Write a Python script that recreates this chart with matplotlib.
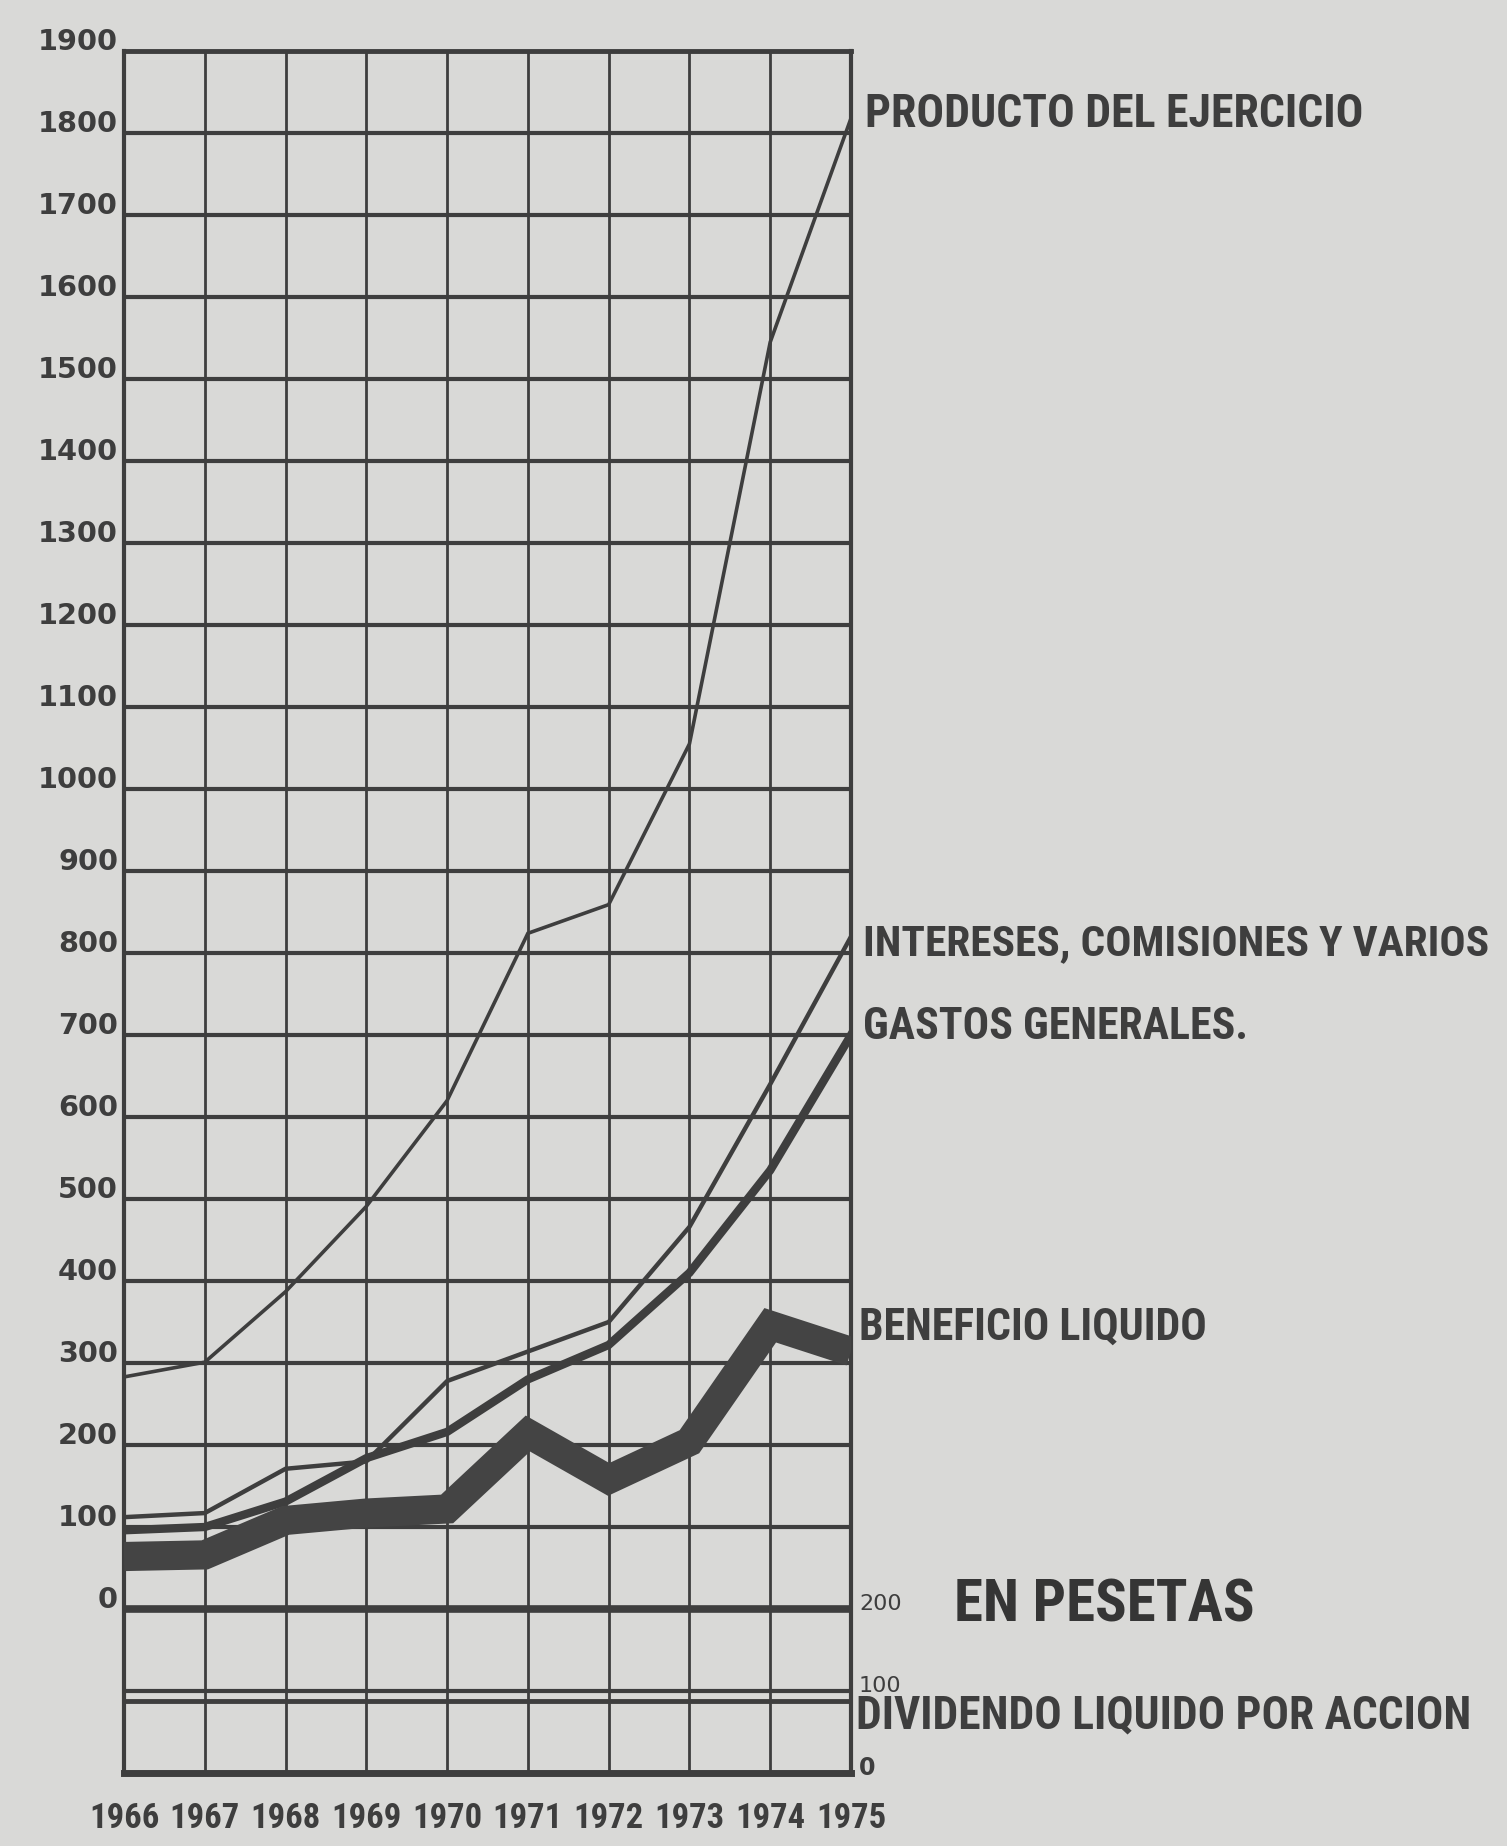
import matplotlib
matplotlib.use("Agg")
import matplotlib.pyplot as plt
from matplotlib import font_manager
from matplotlib.transforms import offset_copy

# data (millones de pesetas / pesetas)
years = [1966, 1967, 1968, 1969, 1970, 1971, 1972, 1973, 1974, 1975]
producto = [283, 301, 387, 491, 620, 824, 859, 1055, 1545, 1818]
intereses = [112, 117, 171, 180, 278, 314, 350, 466, 640, 820]
gastos = [96, 100, 131, 184, 216, 280, 322, 410, 535, 700]
beneficio = [64, 66, 108, 117, 122, 214, 158, 204, 346, 314]
dividendo = [88, 88, 88, 88, 88, 88, 88, 88, 88, 88]

y_ticks = list(range(0, 2000, 100))
div_ticks = [0, 100, 200]
series_names = ["PRODUCTO DEL EJERCICIO", "INTERESES, COMISIONES Y VARIOS",
                "GASTOS GENERALES.", "BENEFICIO LIQUIDO"]
div_name = "DIVIDENDO LIQUIDO POR ACCION"
unit_note = "EN PESETAS"

W, H = 1507, 1846
PAPER = "#d9d9d7"
INK = "#3e3e3e"

# look for a narrow / condensed face, fall back to DejaVu Sans
entries = font_manager.fontManager.ttflist
names = {f.name for f in entries}
COND, STRETCH = "DejaVu Sans", "normal"
for pref in ["Liberation Sans Narrow", "Noto Sans Condensed", "Roboto Condensed",
             "Open Sans Condensed", "DejaVu Sans Condensed"]:
    if pref in names:
        COND = pref
        break
else:
    for f in entries:
        if f.stretch in ("condensed", "semi-condensed") and f.name in (
                "DejaVu Sans", "Noto Sans", "Roboto", "Open Sans", "Liberation Sans"):
            COND, STRETCH = f.name, f.stretch
            break

fig = plt.figure(figsize=(W / 100, H / 100), dpi=100, facecolor=PAPER)
ax = fig.add_axes([124 / W, 73 / H, 727 / W, 1722 / H])
ax.set_facecolor(PAPER)
ax.set_xlim(1966, 1975)
ax.set_ylim(-200, 1900)

# grid
ax.set_xticks(years)
ax.set_yticks(list(range(-100, 2000, 100)))
ax.tick_params(length=0, labelleft=False, labelbottom=False)
ax.set_axisbelow(True)
ax.grid(axis="y", color=INK, lw=3.0)
ax.grid(axis="x", color=INK, lw=2.0)
ax.axhline(0, color=INK, lw=5.5, zorder=1)
for side, lw in [("left", 3), ("right", 3), ("top", 3.5), ("bottom", 5)]:
    ax.spines[side].set_color(INK)
    ax.spines[side].set_linewidth(lw)

# series
ax.plot(years, producto, color=INK, lw=2.6, solid_joinstyle="miter", zorder=3)
ax.plot(years, intereses, color=INK, lw=3.2, solid_joinstyle="miter", zorder=3)
ax.plot(years, gastos, color=INK, lw=6.0, solid_joinstyle="miter", zorder=3)
ax.plot(years, beneficio, color="#444444", lw=21, solid_joinstyle="miter",
        solid_capstyle="butt", zorder=4)

# dividend on its own scale (0 at bottom, 200 at main zero)
ax2 = ax.twinx()
ax2.set_ylim(0, 2100)
ax2.plot(years, dividendo, color=INK, lw=3.5, zorder=3)
ax2.set_yticks([])
for s in ax2.spines.values():
    s.set_visible(False)

renderer = fig.canvas.get_renderer()


def fit(t, width):
    w = t.get_window_extent(renderer).width
    t.set_fontsize(t.get_fontsize() * width / w)


# left tick labels
ytr = offset_copy(ax.get_yaxis_transform(), fig=fig, x=-6, y=9, units="dots")
labels = []
for v in y_ticks:
    labels.append(ax.text(0, v, str(v), transform=ytr, ha="right", va="center",
                          fontsize=20, fontweight="bold", color=INK,
                          family="DejaVu Sans"))
fit(labels[18], 80)
for t in labels:
    t.set_fontsize(labels[18].get_fontsize())

# year labels
xtr = offset_copy(ax.get_xaxis_transform(), fig=fig, x=0, y=-46, units="dots")
ylabs = []
for yr in years:
    ylabs.append(ax.text(yr, 0, str(yr), transform=xtr, ha="center", va="center",
                         fontsize=20, fontweight="bold", color=INK, family=COND,
                         fontstretch=STRETCH))
fit(ylabs[4], 70)
for t in ylabs:
    t.set_fontsize(ylabs[4].get_fontsize())

# dividend scale labels
dtr = offset_copy(ax2.get_yaxis_transform(), fig=fig, x=8, y=5, units="dots")
for v in div_ticks:
    ax2.text(1, v, str(v), transform=dtr, ha="left", va="center", color=INK,
             fontsize=17 if v == 0 else 16, family="DejaVu Sans",
             fontweight="bold" if v == 0 else "normal")

# series labels at right
label_spots = [(865, 114, 497), (863, 944, 626), (863, 1027, 385), (859, 1328, 348)]
for name, (x0, yc, wd) in zip(series_names, label_spots):
    t = fig.text(x0 / W, 1 - yc / H, name, ha="left", va="center", fontsize=20,
                 fontweight="bold", color=INK, family=COND, fontstretch=STRETCH)
    fit(t, wd)

t = fig.text(856 / W, 1 - 1715 / H, div_name, ha="left", va="center", fontsize=20,
             fontweight="bold", color=INK, family=COND, fontstretch=STRETCH)
fit(t, 616)
t = fig.text(954 / W, 1 - 1606 / H, unit_note, ha="left", va="center", fontsize=30,
             fontweight="bold", color="#353535", family=COND, fontstretch=STRETCH)
fit(t, 300)

fig.savefig("out.png", dpi=100, facecolor=PAPER)
